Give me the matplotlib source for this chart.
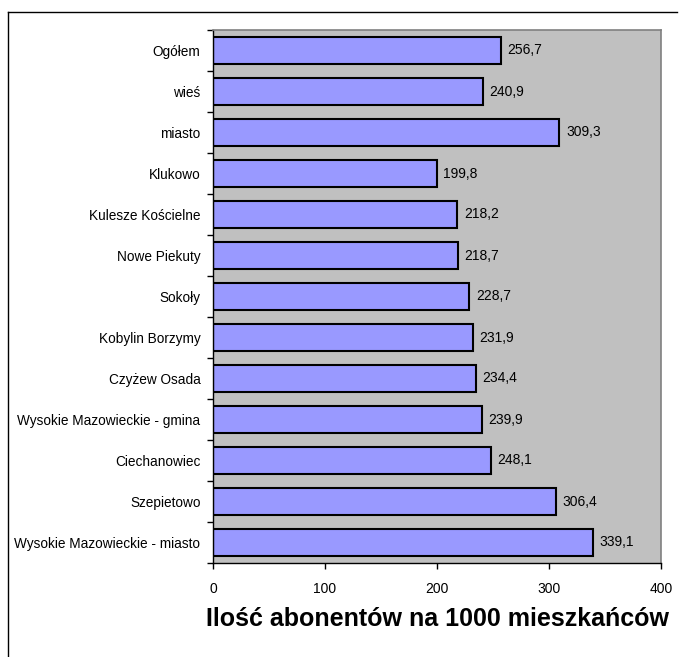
import matplotlib
matplotlib.use("Agg")
import matplotlib.pyplot as plt
from matplotlib.lines import Line2D
import numpy as np

plt.rcParams['font.family'] = ['Liberation Sans', 'DejaVu Sans']

# ── Dane ──────────────────────────────────────────────────────────────────────
categories = ["Ogółem", "wieś", "miasto", "Klukowo", "Kulesze Kościelne",
              "Nowe Piekuty", "Sokoły", "Kobylin Borzymy", "Czyżew Osada",
              "Wysokie Mazowieckie - gmina", "Ciechanowiec", "Szepietowo",
              "Wysokie Mazowieckie - miasto"]
values = [256.7, 240.9, 309.3, 199.8, 218.2, 218.7, 228.7, 231.9, 234.4,
          239.9, 248.1, 306.4, 339.1]
x_ticks = [0, 100, 200, 300, 400]
title = "Ilość abonentów na 1000 mieszkańców"

fig = plt.figure(figsize=(6.81, 6.57), dpi=100)
ax = fig.add_axes([213/681, 1 - 563/657, 448/681, 533/657])
ax.set_facecolor("#C0C0C0")

n = len(categories)
ypos = np.arange(n)
ax.barh(ypos, values, height=0.66, color="#9999FF", edgecolor="black", linewidth=1.5)
for y, v in zip(ypos, values):
    ax.text(v + 6, y, f"{v:.1f}".replace(".", ","), va="center", ha="left", fontsize=10)

ax.set_xlim(0, 400)
ax.set_ylim(n - 0.5, -0.5)
ax.set_xticks(x_ticks)
ax.set_xticklabels([str(t) for t in x_ticks], fontsize=10)
ax.set_yticks(ypos)
ax.set_yticklabels(categories, fontsize=9.8)
ax.tick_params(axis="y", length=0, pad=9)
ax.set_yticks(np.arange(n + 1) - 0.5, minor=True)
ax.tick_params(axis="y", which="minor", length=4, width=1, direction="out")
ax.tick_params(axis="x", length=4, width=1, direction="out", pad=10)

for s in ["top", "right"]:
    ax.spines[s].set_color("#808080")
    ax.spines[s].set_linewidth(1.2)
for s in ["left", "bottom"]:
    ax.spines[s].set_color("black")
    ax.spines[s].set_linewidth(1)

fig.text(437/681, 1 - 619/657, title, ha="center", va="center",
         fontsize=18, fontweight="bold")

# ramka wykresu (tylko góra i lewa strona widoczne)
fig.add_artist(Line2D([8/681, 677/681], [1 - 12/657, 1 - 12/657],
                      color="black", lw=1, transform=fig.transFigure))
fig.add_artist(Line2D([8/681, 8/681], [1 - 12/657, 0],
                      color="black", lw=1, transform=fig.transFigure))

fig.savefig("out.png", dpi=100)
